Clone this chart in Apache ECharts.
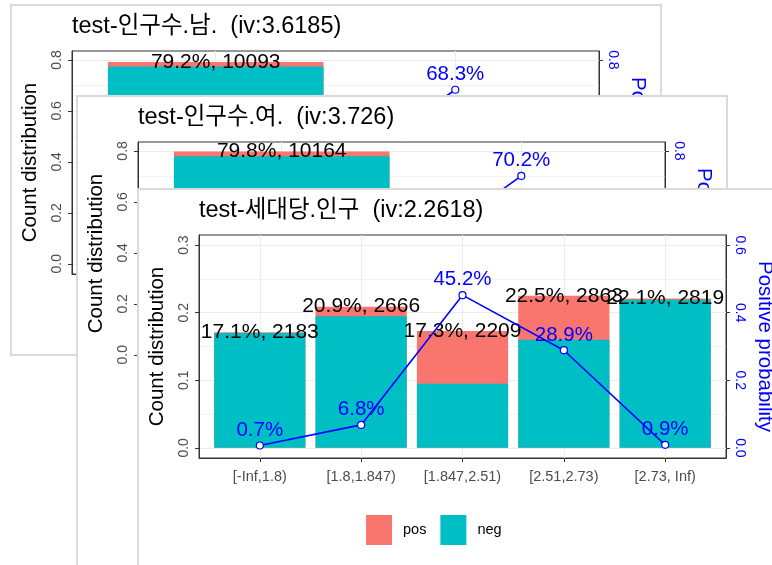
<!DOCTYPE html>
<html>
<head>
<meta charset="utf-8">
<script src="https://cdn.jsdelivr.net/npm/echarts@6/dist/echarts.min.js"></script>
<style>
  html, body { margin: 0; padding: 0; background: #fff; }
  #chart { width: 772px; height: 565px; }
</style>
</head>
<body>
<div id="chart"></div>
<script>
// front panel: 세대당.인구
const bins3 = ['[-Inf,1.8)', '[1.8,1.847)', '[1.847,2.51)', '[2.51,2.73)', '[2.73, Inf)'];
const share3 = [0.171, 0.209, 0.173, 0.225, 0.221];
const count3 = [2183, 2666, 2209, 2863, 2819];
const posRate3 = [0.007, 0.068, 0.452, 0.289, 0.009];

// back panels, mostly hidden (x labels not visible)
const share1 = [0.792, 0.208];
const count1 = [10093, 2651];
const posRate1 = [0.022, 0.683];

const share2 = [0.798, 0.202];
const count2 = [10164, 2573];
const posRate2 = [0.024, 0.702];

const countTicks8 = [0, 0.2, 0.4, 0.6, 0.8];
const minorTicks8 = [0.1, 0.3, 0.5, 0.7];
const countTicks3 = [0, 0.1, 0.2, 0.3];
const minorTicks3 = [0.05, 0.15, 0.25];
const probTicks8 = [0, 0.2, 0.4, 0.6, 0.8];
const probTicks6 = [0, 0.2, 0.4, 0.6];

const FONT = "'Liberation Sans', Arial, 'Noto Sans CJK KR', sans-serif";
const POS = '#F8766D', NEG = '#00BFC4', BLUE = '#0000FF';

const panels = [
  { title: 'test-인구수.남.  (iv:3.6185)', frame: [11, 5, 650, 350], bins: null,
    share: share1, count: count1, rate: posRate1, ymin: -0.04, ymax: 0.835,
    ticks: countTicks8, minor: minorTicks8, sec: 1, secTicks: probTicks8 },
  { title: 'test-인구수.여.  (iv:3.726)', frame: [77, 96, 650, 520], bins: null,
    share: share2, count: count2, rate: posRate2, ymin: -0.04, ymax: 0.835,
    ticks: countTicks8, minor: minorTicks8, sec: 1, secTicks: probTicks8 },
  { title: 'test-세대당.인구  (iv:2.2618)', frame: [138, 189, 660, 420], bins: bins3,
    share: share3, count: count3, rate: posRate3, ymin: -0.015, ymax: 0.315,
    ticks: countTicks3, minor: minorTicks3, sec: 2, secTicks: probTicks6 }
];

const graphic = [], grid = [], xAxis = [], yAxis = [], series = [];

panels.forEach((p, k) => {
  const z = 10 * (k + 1);
  const [fx, fy, fw, fh] = p.frame;
  const left = fx + 61, top = fy + 46, W = 527, H = 223;
  const n = p.share.length;
  const idx = p.share.map((s, i) => i);

  graphic.push({
    type: 'rect', z: z,
    shape: { x: fx, y: fy, width: fw, height: fh },
    style: { fill: '#fff', stroke: '#DADADA', lineWidth: 2 }
  });
  graphic.push({
    type: 'text', z: z + 1, x: left, y: fy + 22,
    style: { text: p.title, font: '23.5px ' + FONT, fill: '#000', verticalAlign: 'middle' }
  });

  grid.push({
    left: left, top: top, width: W, height: H, show: true,
    containLabel: false, outerBoundsMode: 'none',
    backgroundColor: '#fff', borderColor: '#333', borderWidth: 1, z: z + 1
  });

  xAxis.push({
    type: 'value', gridIndex: k, min: -0.6, max: n - 0.4, z: z + 2,
    axisLine: { show: true, onZero: false, lineStyle: { color: '#333' } },
    axisTick: { show: true, length: 4, customValues: idx, lineStyle: { color: '#333' } },
    axisLabel: {
      show: !!p.bins, customValues: idx, color: '#4D4D4D', fontSize: 14.5, margin: 12,
      formatter: v => p.bins ? p.bins[Math.round(v)] : ''
    },
    splitLine: { show: true, lineStyle: { color: '#EBEBEB', width: 1.1 } }
  });

  yAxis.push({
    type: 'value', gridIndex: k, position: 'left', min: p.ymin, max: p.ymax, z: z + 2,
    name: 'Count distribution', nameLocation: 'middle', nameGap: 31, nameRotate: 90,
    nameTextStyle: { fontSize: 20.5, color: '#000' },
    axisLine: { show: true, onZero: false, lineStyle: { color: '#333' } },
    axisTick: { show: true, length: 4, customValues: p.ticks, lineStyle: { color: '#333' } },
    axisLabel: { customValues: p.ticks, rotate: 90, color: '#4D4D4D', fontSize: 14, margin: 8,
      formatter: v => v.toFixed(1) },
    splitLine: { show: true, lineStyle: { color: '#EBEBEB', width: 1.1 } }
  });
  yAxis.push({
    type: 'value', gridIndex: k, position: 'right', min: p.ymin * p.sec, max: p.ymax * p.sec, z: z + 2,
    name: 'Positive probability', nameLocation: 'middle', nameGap: 23, nameRotate: -90,
    nameTextStyle: { fontSize: 20.5, color: BLUE },
    axisLine: { show: true, onZero: false, lineStyle: { color: '#333' } },
    axisTick: { show: true, length: 4, customValues: p.secTicks, lineStyle: { color: '#333' } },
    axisLabel: { customValues: p.secTicks, rotate: -90, color: BLUE, fontSize: 14, margin: 7,
      formatter: v => v.toFixed(1) },
    splitLine: { show: false }
  });
  // minor grid lines
  yAxis.push({
    type: 'value', gridIndex: k, position: 'left', min: p.ymin, max: p.ymax, z: z + 1,
    axisLine: { show: false },
    axisTick: { show: false, customValues: p.minor },
    axisLabel: { show: false, customValues: p.minor },
    splitLine: { show: true, lineStyle: { color: '#EBEBEB', width: 0.6 } }
  });

  const barW = 0.9 * W / (n + 0.2);
  // full bar in pos colour, neg part drawn over it from zero
  series.push({
    name: 'pos', type: 'bar', xAxisIndex: k, yAxisIndex: 3 * k,
    barWidth: barW, barGap: '-100%', z: z + 3, itemStyle: { color: POS },
    data: p.share.map((s, i) => [i, s])
  });
  series.push({
    name: 'neg', type: 'bar', xAxisIndex: k, yAxisIndex: 3 * k,
    barWidth: barW, barGap: '-100%', z: z + 3, itemStyle: { color: NEG },
    data: p.share.map((s, i) => [i, s * (1 - p.rate[i])])
  });
  series.push({
    name: 'count label', type: 'scatter', xAxisIndex: k, yAxisIndex: 3 * k,
    symbolSize: 0, z: z + 4, silent: true, itemStyle: { opacity: 1 },
    data: p.share.map((s, i) => [i, s]),
    label: {
      show: true, position: 'inside', color: '#000000', fontSize: 21,
      formatter: d => (p.share[d.dataIndex] * 100).toFixed(1) + '%, ' + p.count[d.dataIndex]
    }
  });
  series.push({
    name: 'rate', type: 'line', xAxisIndex: k, yAxisIndex: 3 * k + 1, z: z + 5,
    symbol: 'circle', symbolSize: 7,
    lineStyle: { color: BLUE, width: 1.6 },
    itemStyle: { color: '#fff', borderColor: BLUE, borderWidth: 1.2 },
    data: p.rate.map((r, i) => [i, r]),
    label: {
      show: true, position: 'top', distance: 1, color: BLUE, fontSize: 20.5,
      formatter: d => (p.rate[d.dataIndex] * 100).toFixed(1) + '%'
    }
  });
});

const chart = echarts.init(document.getElementById('chart'));
chart.setOption({
  animation: false,
  textStyle: { fontFamily: FONT },
  graphic: graphic,
  grid: grid,
  xAxis: xAxis,
  yAxis: yAxis,
  series: series,
  legend: {
    data: ['pos', 'neg'], left: 366, top: 515, z: 40,
    itemWidth: 26, itemHeight: 30, itemGap: 14, icon: 'rect', padding: 0,
    textStyle: { fontSize: 14.5, color: '#000', padding: [0, 0, 0, 6] }
  }
});
</script>
</body>
</html>
